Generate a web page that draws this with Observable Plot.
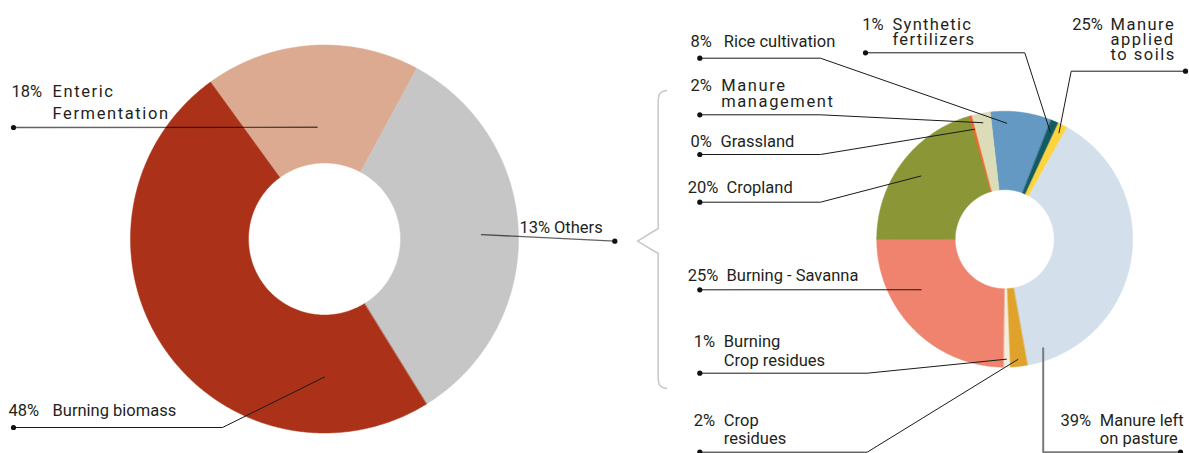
<!DOCTYPE html>
<html>
<head>
<meta charset="utf-8">
<script src="https://cdn.jsdelivr.net/npm/d3@7"></script>
<script src="https://cdn.jsdelivr.net/npm/@observablehq/plot@0.6"></script>
<style>
html, body { margin: 0; padding: 0; background: #fff; }
#chart { width: 1189px; height: 453px; }
</style>
</head>
<body>
<div id="chart"></div>
<script>
// ---------------- DATA ----------------
// Left donut: total emissions by source
const mainCategories = ["Enteric Fermentation", "Others", "Burning biomass"];
const mainValues = [17.9, 33.3, 48.8];
const mainPercentLabels = ["18%", "13%", "48%"];
const mainNameLabels = ["Enteric\nFermentation", "Others", "Burning biomass"];

// Right donut: breakdown of "Others"
const otherCategories = ["Rice cultivation", "Synthetic fertilizers", "Manure applied to soils",
  "Manure left on pasture", "Crop residues", "Burning - Crop residues", "Burning - Savanna",
  "Cropland", "Grassland", "Manure management"];
const otherValues = [7.7, 1.0, 1.2, 39.0, 2.2, 0.8, 24.8, 20.5, 0.35, 2.3];
const otherPercentLabels = ["8%", "1%", "25%", "39%", "2%", "1%", "25%", "20%", "0%", "2%"];
const otherNameLabels = ["Rice cultivation", "Synthetic\nfertilizers", "Manure\napplied\nto soils",
  "Manure left\non pasture", "Crop\nresidues", "Burning\nCrop residues", "Burning - Savanna",
  "Cropland", "Grassland", "Manure\nmanagement"];

// ---------------- STYLE / LAYOUT ----------------
const W = 1189, H = 453;
const mainColors = ["#dcaa91", "#c6c6c6", "#ab3219"];
const otherColors = ["#6399c2", "#135a63", "#fdd43c", "#d3dfea", "#dfa22a", "#efeedf",
  "#ef836e", "#8b9637", "#f06024", "#dcdcb8"];
const mainDonut = {cx: 324, cy: 238.5, r0: 76, r1: 194, start: -36};
const otherDonut = {cx: 1004.2, cy: 238.7, r0: 49.5, r1: 128, start: -6.5};

// label placement: px/nx = x of percent/name, y = first baseline, lh = line height (px)
const mainLayout = [
  {px: 11, nx: 52, y: 96, lh: 22, track: 1.6, dot: [13, 127], elbow: null, r: 112, tone: "soft"},
  {px: 519, nx: 553.5, y: 232.7, lh: 18, dot: [614.3, 240.7], elbow: null, r: 157, tone: "soft"},
  {px: 8, nx: 52, y: 415, lh: 18, dot: [13, 427], elbow: [222, 427], angle: 180, r: 138}
];
const otherLayout = [
  {px: 690, nx: 723.3, y: 46.7, lh: 18, dot: [699.3, 57.7], elbow: [820, 57.7], angle: 1, r: 116},
  {px: 861.7, nx: 892, y: 29.3, lh: 15, track: 1.3, dot: [865, 52.3], elbow: [1024.3, 52.3], r: 116.4},
  {px: 1071.7, nx: 1110, y: 29.3, lh: 15.3, track: 1.5, dot: [1185, 70.7], elbow: [1070.7, 70.7], r: 119.5},
  {px: 1060, nx: 1099.3, y: 425.7, lh: 17.6, dot: [1180, 451.7], elbow: [1042.7, 451.7], angle: 160.55, r: 115.6, tone: "grey"},
  {px: 693.3, nx: 723.3, y: 425.7, lh: 17.6, dot: [699.3, 451.7], elbow: [866.7, 451.7], r: 121},
  {px: 693.3, nx: 723.3, y: 346.7, lh: 18.3, dot: [699.3, 372.7], elbow: [866.7, 372.7], r: 120},
  {px: 687.3, nx: 726, y: 280.7, lh: 18, dot: [699.3, 289.3], elbow: null, angle: 238.8, r: 97.6},
  {px: 687.3, nx: 726, y: 192.7, lh: 18, dot: [699.3, 201.7], elbow: [820, 201.7], r: 105},
  {px: 690, nx: 720, y: 146.7, lh: 18, dot: [699.3, 154], elbow: [820, 154], r: 114},
  {px: 690, nx: 720.7, y: 90.7, lh: 15.3, track: 1.6, dot: [699.3, 114.3], elbow: [820, 114.3], r: 118.5}
];

// ---------------- GEOMETRY ----------------
const rad = (d) => d * Math.PI / 180;
function polar(d, angle, r) {
  return [d.cx + r * Math.sin(rad(angle)), d.cy - r * Math.cos(rad(angle))];
}
function donut(values, colors, d, key) {
  const total = d3.sum(values);
  let acc = d.start;
  const pts = [], slices = [];
  values.forEach((v, i) => {
    const a0 = acc, a1 = acc + v / total * 360;
    acc = a1;
    slices.push({a0, a1, mid: (a0 + a1) / 2});
    const n = Math.max(2, Math.ceil((a1 - a0) / 0.5));
    for (let k = 0; k <= n; ++k) {
      const [x, y] = polar(d, a0 + (a1 - a0) * k / n, d.r1);
      pts.push({id: key + i, color: colors[i], x, y});
    }
    for (let k = n; k >= 0; --k) {
      const [x, y] = polar(d, a0 + (a1 - a0) * k / n, d.r0);
      pts.push({id: key + i, color: colors[i], x, y});
    }
  });
  return {pts, slices};
}
const mainG = donut(mainValues, mainColors, mainDonut, "m");
const otherG = donut(otherValues, otherColors, otherDonut, "o");

const textColor = "#231f20";
const fontSize = 16.5;

const leaders = [], dots = [], pctText = [], nameMarks = [], tracking = [];
function addLabels(layout, geo, d, pcts, names, key) {
  layout.forEach((L, i) => {
    const angle = L.angle ?? geo.slices[i].mid;
    const [ax, ay] = polar(d, angle, L.r);
    const id = key + i;
    const tone = L.tone || "dark";
    leaders.push({id, tone, x: L.dot[0], y: L.dot[1]});
    if (L.elbow) leaders.push({id, tone, x: L.elbow[0], y: L.elbow[1]});
    leaders.push({id, tone, x: ax, y: ay});
    dots.push({x: L.dot[0], y: L.dot[1]});
    pctText.push({x: L.px, y: L.y, text: pcts[i]});
    const nLines = names[i].split("\n").length;
    const tag = "label-" + id;
    tracking.push({tag, ls: L.track || 0});
    nameMarks.push(Plot.text([{x: L.nx, y: L.y + (nLines - 1) * L.lh, text: names[i]}], {
      x: "x", y: "y", text: "text", textAnchor: "start", lineAnchor: "bottom",
      lineHeight: L.lh / fontSize, fontSize, fill: textColor, ariaLabel: () => tag
    }));
  });
}
addLabels(mainLayout, mainG, mainDonut, mainPercentLabels, mainNameLabels, "m");
addLabels(otherLayout, otherG, otherDonut, otherPercentLabels, otherNameLabels, "o");

// curly bracket linking "Others" to the breakdown
const bracket = [
  {x: 666, y: 90}, {x: 661.5, y: 91.2}, {x: 658.7, y: 94}, {x: 657.7, y: 99},
  {x: 657.7, y: 228}, {x: 637, y: 240.7}, {x: 657.7, y: 253},
  {x: 657.7, y: 379}, {x: 658.7, y: 384}, {x: 661.5, y: 386.8}, {x: 666, y: 388}
];

const chart = Plot.plot({
  width: W,
  height: H,
  margin: 0,
  style: {fontFamily: "Roboto, 'DejaVu Sans', sans-serif", background: "#fff"},
  x: {domain: [0, W], range: [0, W], axis: null},
  y: {domain: [0, H], range: [0, H], axis: null},
  marks: [
    Plot.line(mainG.pts, {x: "x", y: "y", z: "id", fill: "color", stroke: "color", strokeWidth: 0.5, curve: "linear-closed"}),
    Plot.line(otherG.pts, {x: "x", y: "y", z: "id", fill: "color", stroke: "color", strokeWidth: 0.5, curve: "linear-closed"}),
    Plot.line(bracket, {x: "x", y: "y", stroke: "#c8c8c8", strokeWidth: 1.5, curve: "linear"}),
    Plot.line(leaders.filter(d => d.tone === "dark"), {x: "x", y: "y", z: "id", stroke: "#1a1a1a", strokeWidth: 1, curve: "linear"}),
    Plot.line(leaders.filter(d => d.tone === "soft"), {x: "x", y: "y", z: "id", stroke: "#000", strokeOpacity: 0.62, strokeWidth: 1.3, curve: "linear"}),
    Plot.line(leaders.filter(d => d.tone === "grey"), {x: "x", y: "y", z: "id", stroke: "#7a7a7a", strokeWidth: 2, curve: "linear"}),
    Plot.dot(dots, {x: "x", y: "y", r: 2.6, fill: "#111", stroke: null}),
    Plot.text(pctText, {x: "x", y: "y", text: "text", textAnchor: "start", lineAnchor: "bottom", fontSize, fill: textColor}),
    ...nameMarks
  ]
});
// letter tracking for the spaced-out labels
tracking.filter(t => t.ls > 0).forEach(t => {
  d3.select(chart).selectAll(`[aria-label="${t.tag}"]`).style("letter-spacing", t.ls + "px");
});
document.getElementById("chart").appendChild(chart);
</script>
</body>
</html>
